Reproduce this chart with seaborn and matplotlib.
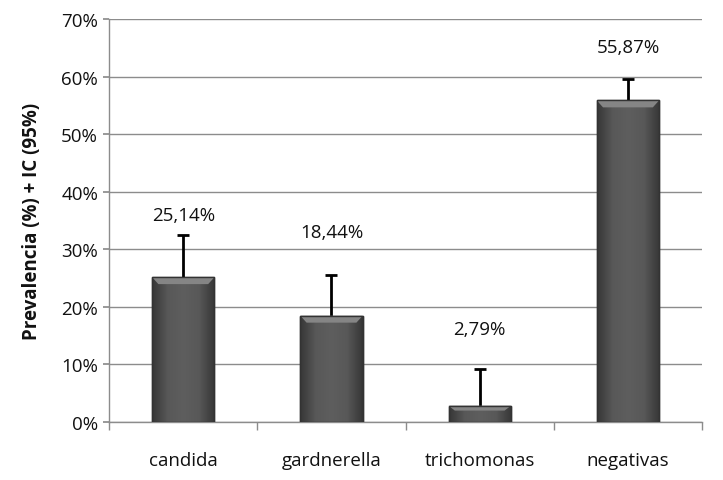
import numpy as np
import pandas as pd
import seaborn as sns
import matplotlib.pyplot as plt
from matplotlib.ticker import FuncFormatter, FixedLocator
from matplotlib.colors import LinearSegmentedColormap

# Data
categories = ['candida', 'gardnerella', 'trichomonas', 'negativas']
prevalence = [25.14, 18.44, 2.79, 55.87]
ic_upper = [32.5, 25.5, 9.2, 59.6]

sns.set_theme(style='white')
plt.rcParams['font.family'] = ['Open Sans', 'DejaVu Sans']

df = pd.DataFrame({'Grupo': categories, 'Prevalencia': prevalence})

fig = plt.figure(figsize=(7.23, 4.81), dpi=100)
ax = fig.add_axes([0.151, 0.121, 0.820, 0.837])

sns.barplot(data=df, x='Grupo', y='Prevalencia', color='#5a5a5a',
            width=0.42, edgecolor='#3a3a3a', linewidth=1.0, ax=ax, zorder=3)

# upper-only error bars (IC 95%): stem from bar top plus a cap at the upper limit
xpos = np.arange(len(categories))
ax.vlines(xpos, prevalence, ic_upper, colors='black', lw=2, zorder=3.2)
ax.plot(xpos, ic_upper, ls='none', marker='_', ms=9, mew=2, color='black', zorder=3.2)

# gradient fill to mimic the bevelled look
cmap = LinearSegmentedColormap.from_list('bar', ['#363636', '#585858', '#5e5e5e', '#585858', '#363636'])
grad = np.linspace(0, 1, 256).reshape(1, -1)
for patch in ax.patches:
    x0, y0 = patch.get_x(), patch.get_y()
    w, h = patch.get_width(), patch.get_height()
    im = ax.imshow(grad, cmap=cmap, aspect='auto', extent=[x0, x0 + w, y0, y0 + h], zorder=3.5)
    im.set_clip_path(patch)
    # light bevel strip at the top
    bev = min(1.2, h * 0.3)
    ax.fill([x0, x0 + w, x0 + w * 0.9, x0 + w * 0.1], [y0 + h, y0 + h, y0 + h - bev, y0 + h - bev],
            color='#858585', zorder=3.6, lw=0)
    ax.add_patch(plt.Rectangle((x0, y0), w, h, fill=False, edgecolor='#333333', lw=1.0, zorder=3.7))

# value labels (gap above the error bar, in points)
label_gap = [14, 31, 29, 23]
for x, p, u, g in zip(xpos, prevalence, ic_upper, label_gap):
    ax.annotate(f'{p:.2f}%'.replace('.', ','), xy=(x, u), xytext=(0, g),
                textcoords='offset points', ha='center', va='center', fontsize=13.5, color='#111111')

ax.set_ylim(0, 70)
ax.set_xlim(-0.5, len(categories) - 0.5)
ax.set_yticks(np.arange(0, 71, 10))
ax.yaxis.set_major_formatter(FuncFormatter(lambda v, _: f'{v:.0f}%'))
ax.grid(axis='y', color='#8c8c8c', lw=1.0, zorder=0)
ax.set_axisbelow(True)

for s in ['top', 'right']:
    ax.spines[s].set_visible(False)
for s in ['left', 'bottom']:
    ax.spines[s].set_color('#8c8c8c')
    ax.spines[s].set_linewidth(1.0)

ax.tick_params(axis='y', left=True, length=4, color='#8c8c8c', labelsize=13.5, labelcolor='#111111', pad=4)
ax.tick_params(axis='x', bottom=False, labelsize=13.5, labelcolor='#111111', pad=15)
ax.xaxis.set_minor_locator(FixedLocator(np.arange(-0.5, len(categories) - 0.4, 1.0)))
ax.tick_params(axis='x', which='minor', bottom=True, length=6, color='#8c8c8c', width=1)

ax.set_xlabel('')
ax.set_ylabel('Prevalencia (%) + IC (95%)', fontsize=13.5, fontweight='bold', color='#111111', labelpad=14)

fig.savefig('out.png', dpi=100, facecolor='white')
